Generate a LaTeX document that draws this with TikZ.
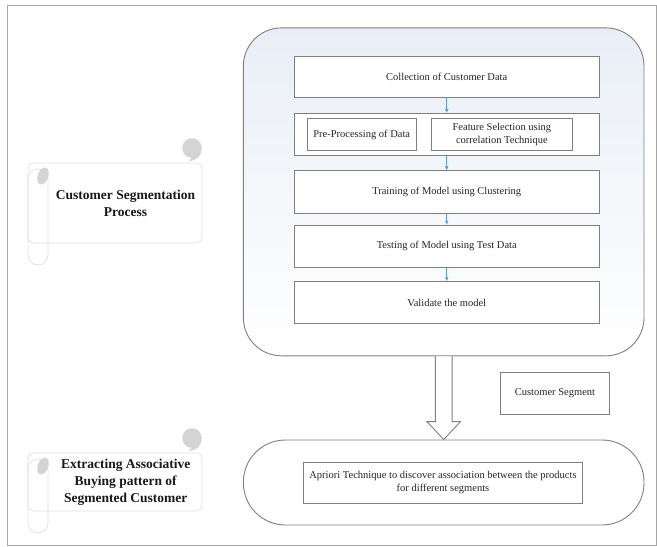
\documentclass[tikz,border=0pt]{standalone}
\usepackage{fontspec}
\setmainfont{Liberation Serif}
\usetikzlibrary{arrows.meta,calc}
\definecolor{edge}{HTML}{7F7F7F}
\definecolor{flow}{HTML}{5B9BD5}
\definecolor{scrollline}{HTML}{E2E2E2}
\definecolor{blobgray}{HTML}{D4D4D4}
\definecolor{panelblue}{HTML}{E9EEF6}
\newcommand\myscroll[2]{%
  \draw[scrollshape, rounded corners=6pt] (28,#1) rectangle (202,#2);
  \draw[scrollshape, fill=none, rounded corners=10pt] (28,#1+6) rectangle (48,#2+22);
  \fill[blobgray] (192,#1-15) circle (9.8pt);
  \fill[blobgray] (201.6,#1-13) .. controls (201,#1-7) and (197,#1-3) .. (189,#1-2)
     .. controls (192,#1-5) and (192.5,#1-8) .. (191,#1-10) -- cycle;
  \fill[blobgray, rotate around={-20:(43,#1+13)}] (43,#1+13) ellipse (5.3pt and 8.8pt);
}
\begin{document}
\begin{tikzpicture}[x=1pt,y=-1pt,
  box/.style={draw=edge, line width=0.9pt, fill=white, inner sep=0pt, align=center,
    font=\fontsize{10.5}{13.3}\selectfont, text=black!85},
  flowarrow/.style={draw=flow, line width=0.6pt, -{Latex[length=4pt,width=3.5pt]}},
  title/.style={align=center, font=\fontsize{13.5}{17}\selectfont\bfseries, text=black!90},
  scrollshape/.style={draw=scrollline, line width=0.8pt, fill=white},
  bigarrow/.style={draw=edge, line width=0.9pt, fill=white, line join=miter},
]
\useasboundingbox (0,0) rectangle (657,547);
\draw[gray!70, line width=0.8pt] (7,5) rectangle (656,545);

% scrolls
\myscroll{163}{243}
\node[title] (t1) at (125.5,203) {Customer Segmentation\\Process};
\myscroll{453}{511}
\node[title] (t2) at (125.7,482.5) {Extracting Associative\\Buying pattern of\\Segmented Customer};

% main panel
\node[draw=edge, line width=0.9pt, rounded corners=38pt, top color=panelblue, bottom color=white,
  minimum width=400.6pt, minimum height=327.9pt, inner sep=0pt] (panel) at (443.7,191.85) {};

\node[box, minimum width=305.5pt, minimum height=40.8pt] (c1) at (446.75,76.9) {Collection of Customer Data};
\node[box, minimum width=305.5pt, minimum height=41.8pt] (row2) at (446.75,134.3) {};
\node[box, minimum width=108.5pt, minimum height=31.7pt] (pre) at (361.75,134.45) {Pre-Processing of Data};
\node[box, minimum width=140.8pt, minimum height=31.7pt] (feat) at (501.9,134.45) {Feature Selection using\\correlation Technique};
\node[box, minimum width=305.5pt, minimum height=42.2pt] (train) at (446.75,192) {Training of Model using Clustering};
\node[box, minimum width=305.5pt, minimum height=41.9pt] (test) at (446.75,246.25) {Testing of Model using Test Data};
\node[box, minimum width=305.5pt, minimum height=41.5pt] (valid) at (446.75,302.55) {Validate the model};

\draw[flowarrow] (c1) -- (row2);
\draw[flowarrow] (row2) -- (train);
\draw[flowarrow] (train) -- (test);
\draw[flowarrow] (test) -- (valid);

% customer segment label
\node[box, minimum width=109pt, minimum height=42pt] (seg) at (555,393) {Customer Segment};

% bottom capsule
\node[draw=edge, line width=0.9pt, fill=white, rounded corners=42pt,
  minimum width=400.6pt, minimum height=85pt, inner sep=0pt] (caps) at (443.7,482.5) {};
\node[box, minimum width=278.6pt, minimum height=41pt] (apr) at (443,482.5)
  {Apriori Technique to discover association between the products\\for different segments};

% big hollow arrow
\draw[bigarrow] ($(panel.south)+(-8.4,0)$) -- ($(caps.north)+(-8.4,-18)$) -- ($(caps.north)+(-16.8,-18)$)
  -- (caps.north) -- ($(caps.north)+(16.8,-18)$) -- ($(caps.north)+(8.4,-18)$) -- ($(panel.south)+(8.4,0)$);
\end{tikzpicture}
\end{document}
